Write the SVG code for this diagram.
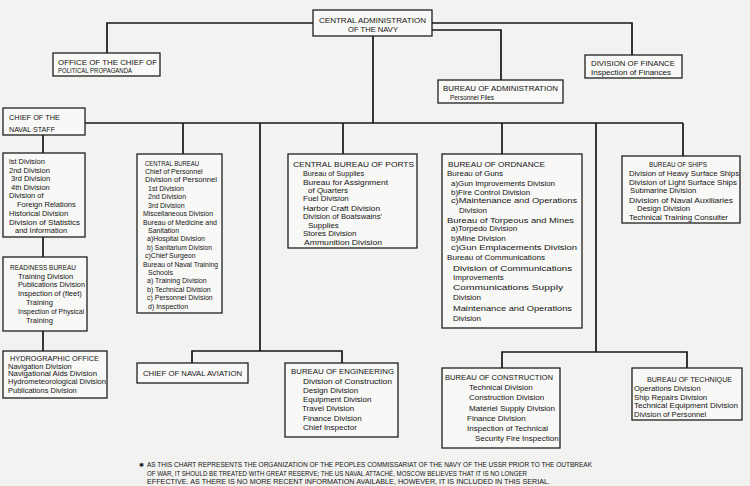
<svg xmlns="http://www.w3.org/2000/svg" width="750" height="486" viewBox="0 0 750 486">
<style>
text{font-family:"Liberation Sans",Arial,sans-serif;fill:#141414;font-size:7.5px}
.box{fill:#f8f8f6;stroke:#1e1e1e;stroke-width:1.3}
.h{font-size:7.6px}
.f7 text{font-size:7px}
.f8 text{font-size:8px}
.f77 text{font-size:7.7px}
.fn text{font-size:6.3px}
#connectors path{fill:none;stroke:#161616;stroke-width:1.7}
</style>
<rect width="750" height="486" fill="#f2f2f0"/>
<g id="connectors">
<path d="M313,23 H107 V53"/>
<path d="M432,23 H632 V55"/>
<path d="M432,30 H501 V80"/>
<path d="M373,36 V123"/>
<path d="M85,123 H683"/>
<path d="M183,123 V154"/>
<path d="M343,123 V154"/>
<path d="M502,123 V154"/>
<path d="M683,123 V156"/>
<path d="M260,123 V351"/>
<path d="M192,363 V351 H342 V363"/>
<path d="M596,123 V352"/>
<path d="M502,368 V352 H687 V368"/>
<path d="M43,135 V153"/>
<path d="M43,237 V257"/>
<path d="M43,331 V351"/>
</g>
<g id="central-administration">
<rect class="box" x="313" y="10" width="119" height="26"/>
<text class="h" x="319" y="22.5" textLength="107" lengthAdjust="spacingAndGlyphs">CENTRAL ADMINISTRATION</text>
<text class="h" x="348" y="31.5" textLength="50" lengthAdjust="spacingAndGlyphs">OF THE NAVY</text>
</g>
<g id="political-propaganda">
<rect class="box" x="53" y="53" width="107" height="23"/>
<text class="h" x="58" y="64.5" textLength="99" lengthAdjust="spacingAndGlyphs">OFFICE OF THE CHIEF OF</text>
<text class="h" x="58" y="73" textLength="74" lengthAdjust="spacingAndGlyphs">POLITICAL PROPAGANDA</text>
</g>
<g id="division-of-finance">
<rect class="box" x="585" y="55" width="97" height="23"/>
<text class="h" x="591" y="66" textLength="84" lengthAdjust="spacingAndGlyphs">DIVISION OF FINANCE</text>
<text x="591" y="75" textLength="80" lengthAdjust="spacingAndGlyphs">Inspection of Finances</text>
</g>
<g id="bureau-of-administration">
<rect class="box" x="438" y="80" width="125" height="23"/>
<text class="h" x="443" y="91" textLength="115" lengthAdjust="spacingAndGlyphs">BUREAU OF ADMINISTRATION</text>
<text x="450" y="100" textLength="44" lengthAdjust="spacingAndGlyphs" style="font-size:7px">Personnel Files</text>
</g>
<g id="chief-of-naval-staff">
<rect class="box" x="3" y="108" width="82" height="27"/>
<text class="h" x="9" y="119.5" textLength="51" lengthAdjust="spacingAndGlyphs">CHIEF OF THE</text>
<text class="h" x="9" y="131.5" textLength="46" lengthAdjust="spacingAndGlyphs">NAVAL STAFF</text>
</g>
<g id="staff-divisions">
<rect class="box" x="3" y="153" width="82" height="84"/>
<text x="9" y="164">lst Division</text>
<text x="9" y="172.6">2nd Division</text>
<text x="11" y="181.2">3rd Division</text>
<text x="11" y="189.8">4th Division</text>
<text x="9" y="198.4">Division of</text>
<text x="17" y="207">Foreign Relations</text>
<text x="9" y="215.6">Historical Division</text>
<text x="9" y="224.6" textLength="71" lengthAdjust="spacingAndGlyphs">Division of Statistics</text>
<text x="15" y="233">and Information</text>
</g>
<g id="readiness-bureau">
<rect class="box" x="3" y="257" width="84" height="74"/>
<text class="h" x="10" y="269.6" textLength="66" lengthAdjust="spacingAndGlyphs">READINESS BUREAU</text>
<text x="18" y="278.6">Training Division</text>
<text x="18" y="287.1" textLength="67" lengthAdjust="spacingAndGlyphs">Publications Division</text>
<text x="18" y="295.6">Inspection of (fleet)</text>
<text x="26" y="304.6">Training</text>
<text x="18" y="313.6" textLength="66" lengthAdjust="spacingAndGlyphs">Inspection of Physical</text>
<text x="26" y="322.6">Training</text>
</g>
<g id="hydrographic-office">
<rect class="box" x="3" y="351" width="104" height="47"/>
<text class="h" x="10" y="360.6" textLength="89" lengthAdjust="spacingAndGlyphs">HYDROGRAPHIC OFFICE</text>
<text x="8" y="368.6">Navigation Division</text>
<text x="8" y="376.4" textLength="89" lengthAdjust="spacingAndGlyphs">Navigational Aids Division</text>
<text x="8" y="384.4" textLength="98" lengthAdjust="spacingAndGlyphs">Hydrometeorological Division</text>
<text x="8" y="392.8">Publications Division</text>
</g>
<g id="central-bureau" class="f7">
<rect class="box" x="137" y="154" width="85" height="159"/>
<text class="h" x="145" y="165.6" textLength="54" lengthAdjust="spacingAndGlyphs">CENTRAL BUREAU</text>
<text x="145" y="174">Chief of Personnel</text>
<text x="145" y="182.4" textLength="72" lengthAdjust="spacingAndGlyphs">Division of Personnel</text>
<text x="148" y="190.8">1st Division</text>
<text x="148" y="199.2">2nd Division</text>
<text x="148" y="207.6">3rd Division</text>
<text x="143" y="216.1" textLength="70" lengthAdjust="spacingAndGlyphs">Miscellaneous Division</text>
<text x="143" y="224.5" textLength="74" lengthAdjust="spacingAndGlyphs">Bureau of Medicine and</text>
<text x="148" y="232.9">Sanitation</text>
<text x="147" y="241.3">a)Hospital Division</text>
<text x="147" y="249.7" textLength="65" lengthAdjust="spacingAndGlyphs">b) Sanitarium Division</text>
<text x="145" y="258.1">c)Chief Surgeon</text>
<text x="143" y="266.5" textLength="75" lengthAdjust="spacingAndGlyphs">Bureau of Naval Training</text>
<text x="148" y="274.9">Schools</text>
<text x="147" y="283.3">a) Training Division</text>
<text x="147" y="291.7">b) Technical Division</text>
<text x="147" y="300.2">c) Personnel Division</text>
<text x="148" y="308.6">d) Inspection</text>
</g>
<g id="central-bureau-of-ports" class="f8">
<rect class="box" x="288" y="154" width="129" height="94"/>
<text class="h" x="293" y="166.6" textLength="121" lengthAdjust="spacingAndGlyphs">CENTRAL BUREAU OF PORTS</text>
<text x="303" y="175.6" textLength="61" lengthAdjust="spacingAndGlyphs">Bureau of Supplies</text>
<text x="303" y="184.6" textLength="85" lengthAdjust="spacingAndGlyphs">Bureau for Assignment</text>
<text x="308" y="192.6">of Quarters</text>
<text x="303" y="200.6">Fuel Division</text>
<text x="303" y="210.6" textLength="77" lengthAdjust="spacingAndGlyphs">Harbor Craft Division</text>
<text x="303" y="218.6" textLength="79" lengthAdjust="spacingAndGlyphs">Division of Boatswains'</text>
<text x="308" y="227.6">Supplies</text>
<text x="303" y="235.6">Stores Division</text>
<text x="304" y="244.6" textLength="78" lengthAdjust="spacingAndGlyphs">Ammunition Division</text>
</g>
<g id="bureau-of-ordnance" class="f8">
<rect class="box" x="442" y="154" width="140" height="174"/>
<text class="h" x="448" y="166.6" textLength="97" lengthAdjust="spacingAndGlyphs">BUREAU OF ORDNANCE</text>
<text x="447" y="175.6">Bureau of Guns</text>
<text x="451" y="185.6" textLength="104" lengthAdjust="spacingAndGlyphs">a)Gun Improvements Division</text>
<text x="451" y="194.6">b)Fire Control Division</text>
<text x="451" y="202.6" textLength="126" lengthAdjust="spacingAndGlyphs">c)Maintenance and Operations</text>
<text x="459" y="212.6">Division</text>
<text x="447" y="222.6" textLength="127" lengthAdjust="spacingAndGlyphs">Bureau of Torpeous and Mines</text>
<text x="451" y="230.6">a)Torpedo Division</text>
<text x="451" y="240.6">b)Mine Division</text>
<text x="451" y="249.6" textLength="126" lengthAdjust="spacingAndGlyphs">c)Gun Emplacements Division</text>
<text x="447" y="259.6" textLength="98" lengthAdjust="spacingAndGlyphs">Bureau of Communications</text>
<text x="453" y="270.6" textLength="119" lengthAdjust="spacingAndGlyphs">Division of Communications</text>
<text x="453" y="279.6">Improvements</text>
<text x="453" y="289.6" textLength="110" lengthAdjust="spacingAndGlyphs">Communications Supply</text>
<text x="453" y="299.6">Division</text>
<text x="453" y="310.6" textLength="119" lengthAdjust="spacingAndGlyphs">Maintenance and Operations</text>
<text x="453" y="320.6">Division</text>
</g>
<g id="bureau-of-ships" class="f77">
<rect class="box" x="622" y="156" width="118" height="67"/>
<text class="h" x="649" y="166.6" textLength="58" lengthAdjust="spacingAndGlyphs">BUREAU OF SHIPS</text>
<text x="629" y="175.6" textLength="110" lengthAdjust="spacingAndGlyphs">Division of Heavy Surface Ships</text>
<text x="629" y="184.6" textLength="108" lengthAdjust="spacingAndGlyphs">Division of Light Surface Ships</text>
<text x="630" y="192.6">Submarine Division</text>
<text x="629" y="202.6" textLength="104" lengthAdjust="spacingAndGlyphs">Division of Naval Auxiliaries</text>
<text x="637" y="210.6">Design Division</text>
<text x="629" y="219.6" textLength="99" lengthAdjust="spacingAndGlyphs">Technical Training Consulter</text>
</g>
<g id="chief-of-naval-aviation">
<rect class="box" x="137" y="363" width="111" height="20"/>
<text class="h" x="143" y="376" textLength="99" lengthAdjust="spacingAndGlyphs">CHIEF OF NAVAL AVIATION</text>
</g>
<g id="bureau-of-engineering" class="f8">
<rect class="box" x="285" y="363" width="113" height="74"/>
<text class="h" x="291" y="373.6" textLength="103" lengthAdjust="spacingAndGlyphs">BUREAU OF ENGINEERING</text>
<text x="303" y="383.6" textLength="89" lengthAdjust="spacingAndGlyphs">Division of Construction</text>
<text x="303" y="392.6">Design Division</text>
<text x="303" y="401.6">Equipment Division</text>
<text x="302" y="410.6">Travel Division</text>
<text x="303" y="420.6">Finance Division</text>
<text x="303" y="429.6">Chief Inspector</text>
</g>
<g id="bureau-of-construction" class="f8">
<rect class="box" x="442" y="368" width="118" height="80"/>
<text class="h" x="445" y="379.6" textLength="108" lengthAdjust="spacingAndGlyphs">BUREAU OF CONSTRUCTION</text>
<text x="469" y="389.6">Technical Division</text>
<text x="469" y="399.6">Construction Division</text>
<text x="469" y="410.6" textLength="86" lengthAdjust="spacingAndGlyphs">Matériel Supply Division</text>
<text x="467" y="420.6">Finance Division</text>
<text x="467" y="430.6" textLength="81" lengthAdjust="spacingAndGlyphs">Inspection of Technical</text>
<text x="475" y="440.6">Security Fire Inspection</text>
</g>
<g id="bureau-of-technique" class="f77">
<rect class="box" x="632" y="368" width="110" height="52"/>
<text class="h" x="647" y="381.6" textLength="85" lengthAdjust="spacingAndGlyphs">BUREAU OF TECHNIQUE</text>
<text x="634" y="390.6">Operations Division</text>
<text x="634" y="399.6">Ship Repairs Division</text>
<text x="634" y="407.6" textLength="104" lengthAdjust="spacingAndGlyphs">Technical Equipment Division</text>
<text x="634" y="416.6">Division of Personnel</text>
</g>
<g id="footnote" class="fn">
<text x="139" y="466.5" style="font-family:'DejaVu Sans',sans-serif;font-size:6px">✱</text>
<text x="147" y="466.5" textLength="445" lengthAdjust="spacingAndGlyphs">AS THIS CHART REPRESENTS THE ORGANIZATION OF THE PEOPLES COMMISSARIAT OF THE NAVY OF THE USSR PRIOR TO THE OUTBREAK</text>
<text x="147" y="475.5" textLength="380" lengthAdjust="spacingAndGlyphs">OF WAR, IT SHOULD BE TREATED WITH GREAT RESERVE; THE US NAVAL ATTACHÉ, MOSCOW BELIEVES THAT IT IS NO LONGER</text>
<text x="147" y="484.3" textLength="403" lengthAdjust="spacingAndGlyphs">EFFECTIVE.  AS THERE IS NO MORE RECENT INFORMATION AVAILABLE, HOWEVER, IT IS INCLUDED IN THIS SERIAL.</text>
</g>
</svg>
